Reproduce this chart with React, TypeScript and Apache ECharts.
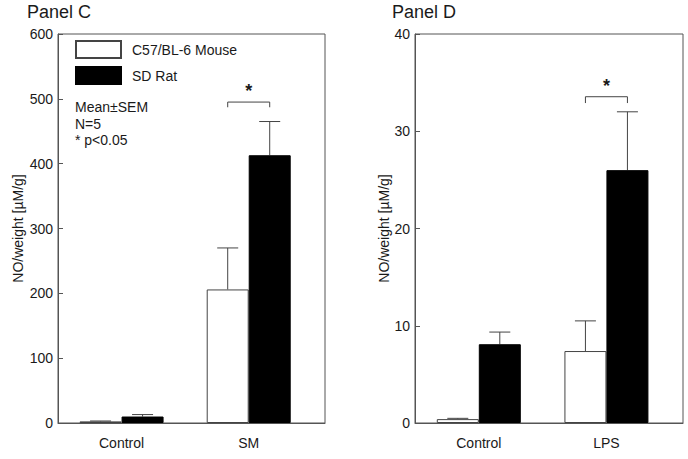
import React, { useEffect, useRef } from "react";
import * as echarts from "echarts";

const panelCCategories = ["Control", "SM"];
const panelDCategories = ["Control", "LPS"];
const seriesNames = ["C57/BL-6 Mouse", "SD Rat"];

const panelCMouse = [2.5, 206];
const panelCMouseSem = [0.6, 64];
const panelCRat = [10, 413];
const panelCRatSem = [3, 52];

const panelDMouse = [0.4, 7.4];
const panelDMouseSem = [0.08, 3.1];
const panelDRat = [8.1, 26.0];
const panelDRatSem = [1.25, 6.0];

// significance brackets: [category index, bracket y, tick end y]
const panelCBracket = [[1, 495, 487]];
const panelDBracket = [[1, 33.55, 32.9]];

const panelCTicks = [0, 100, 200, 300, 400, 500, 600];
const panelDTicks = [0, 10, 20, 30, 40];

const FONT = "'Liberation Sans', Arial, Helvetica, sans-serif";
const TXT = "#1a1a1a";
const AXIS = "#555";
const BAR_W = 42;

export default function App() {
  const ref = useRef<HTMLDivElement>(null);
  useEffect(() => {
    if (!ref.current) return;
    const chart = echarts.init(ref.current, null, { renderer: "svg" });

    const xAxisFor = (cats: string[], gridIndex: number) => ({
      type: "value",
      gridIndex,
      min: -0.5,
      max: 1.6,
      axisLine: { show: true, onZero: false, lineStyle: { color: AXIS, width: 1 } },
      axisTick: { show: false },
      splitLine: { show: false },
      axisLabel: {
        customValues: [0, 1],
        formatter: (v: number) => cats[Math.round(v)] ?? "",
        fontSize: 14,
        color: TXT,
        fontFamily: FONT,
        margin: 13,
      },
    });

    const yAxisFor = (ticks: number[], gridIndex: number, gap: number) => ({
      type: "value",
      gridIndex,
      min: ticks[0],
      max: ticks[ticks.length - 1],
      interval: ticks[1] - ticks[0],
      name: "NO/weight [µM/g]",
      nameLocation: "middle",
      nameGap: gap,
      nameTextStyle: { fontSize: 14, color: TXT, fontFamily: FONT },
      axisLine: { show: true, onZero: false, lineStyle: { color: AXIS, width: 1 } },
      axisTick: { show: true, inside: true, length: 5, lineStyle: { color: AXIS } },
      splitLine: { show: false },
      axisLabel: { fontSize: 14, color: TXT, fontFamily: FONT, margin: 5 },
    });

    const barSeries = (
      name: string,
      vals: number[],
      idx: number,
      black: boolean
    ) => ({
      type: "bar",
      name,
      xAxisIndex: idx,
      yAxisIndex: idx,
      barWidth: BAR_W,
      barGap: "0%",
      data: vals.map((v, i) => [i, v]),
      itemStyle: black
        ? { color: "#000", borderColor: "#000", borderWidth: 1 }
        : { color: "#fff", borderColor: "#444", borderWidth: 1 },
    });

    const errSeries = (
      vals: number[],
      sems: number[],
      idx: number,
      side: number
    ) => ({
      type: "custom",
      xAxisIndex: idx,
      yAxisIndex: idx,
      silent: true,
      data: vals.map((v, i) => [i, v, v + sems[i]]),
      renderItem: (params: any, api: any) => {
        const x = api.value(0);
        const base = api.coord([x, api.value(1)]);
        const top = api.coord([x, api.value(2)]);
        const cx = base[0] + side * (BAR_W / 2);
        const st = { stroke: "#444", lineWidth: 1 };
        return {
          type: "group",
          children: [
            { type: "line", shape: { x1: cx, y1: base[1], x2: cx, y2: top[1] }, style: st },
            { type: "line", shape: { x1: cx - 10.5, y1: top[1], x2: cx + 10.5, y2: top[1] }, style: st },
          ],
        };
      },
    });

    const bracketSeries = (data: number[][], idx: number) => ({
      type: "custom",
      xAxisIndex: idx,
      yAxisIndex: idx,
      silent: true,
      data,
      renderItem: (params: any, api: any) => {
        const x = api.value(0);
        const top = api.coord([x, api.value(1)]);
        const end = api.coord([x, api.value(2)]);
        const l = top[0] - BAR_W / 2;
        const r = top[0] + BAR_W / 2;
        return {
          type: "group",
          children: [
            {
              type: "polyline",
              shape: { points: [[l, end[1]], [l, top[1]], [r, top[1]], [r, end[1]]] },
              style: { stroke: "#444", lineWidth: 1, fill: null },
            },
            {
              type: "text",
              x: top[0],
              y: top[1] - 2,
              style: {
                text: "*",
                fontSize: 18,
                fontWeight: "bold",
                fontFamily: FONT,
                fill: TXT,
                align: "center",
                verticalAlign: "bottom",
              },
            },
          ],
        };
      },
    });

    const titleStyle = { fontSize: 18, fontWeight: "normal", color: TXT, fontFamily: FONT };

    chart.setOption({
      animation: false,
      backgroundColor: "#fff",
      title: [
        { text: "Panel C", left: 27, top: 3, padding: 0, textStyle: titleStyle },
        { text: "Panel D", left: 392, top: 3, padding: 0, textStyle: titleStyle },
      ],
      legend: {
        orient: "vertical",
        left: 75,
        top: 40,
        padding: 0,
        itemWidth: 45,
        itemHeight: 17,
        itemGap: 7,
        icon: "rect",
        data: seriesNames,
        textStyle: { fontSize: 14, color: TXT, fontFamily: FONT, padding: [0, 0, 0, 6] },
        selectedMode: false,
      },
      graphic: [
        {
          type: "text",
          left: 75,
          top: 99,
          style: {
            text: "Mean±SEM\nN=5\n* p<0.05",
            fontSize: 14,
            lineHeight: 16.5,
            fontFamily: FONT,
            fill: TXT,
          },
        },
      ],
      grid: [
        { left: 58, top: 34, width: 267, height: 389, show: true, borderColor: AXIS, borderWidth: 1, backgroundColor: "transparent" },
        { left: 415, top: 34, width: 268, height: 389, show: true, borderColor: AXIS, borderWidth: 1, backgroundColor: "transparent" },
      ],
      xAxis: [xAxisFor(panelCCategories, 0), xAxisFor(panelDCategories, 1)],
      yAxis: [yAxisFor(panelCTicks, 0, 33), yAxisFor(panelDTicks, 1, 24)],
      series: [
        errSeries(panelCMouse, panelCMouseSem, 0, -1),
        errSeries(panelCRat, panelCRatSem, 0, 1),
        errSeries(panelDMouse, panelDMouseSem, 1, -1),
        errSeries(panelDRat, panelDRatSem, 1, 1),
        barSeries(seriesNames[0], panelCMouse, 0, false),
        barSeries(seriesNames[1], panelCRat, 0, true),
        barSeries(seriesNames[0], panelDMouse, 1, false),
        barSeries(seriesNames[1], panelDRat, 1, true),
        bracketSeries(panelCBracket, 0),
        bracketSeries(panelDBracket, 1),
      ],
    });
    return () => chart.dispose();
  }, []);
  return (
    <div
      ref={ref}
      style={{ position: "fixed", left: 0, top: 0, width: 688, height: 459 }}
    />
  );
}
